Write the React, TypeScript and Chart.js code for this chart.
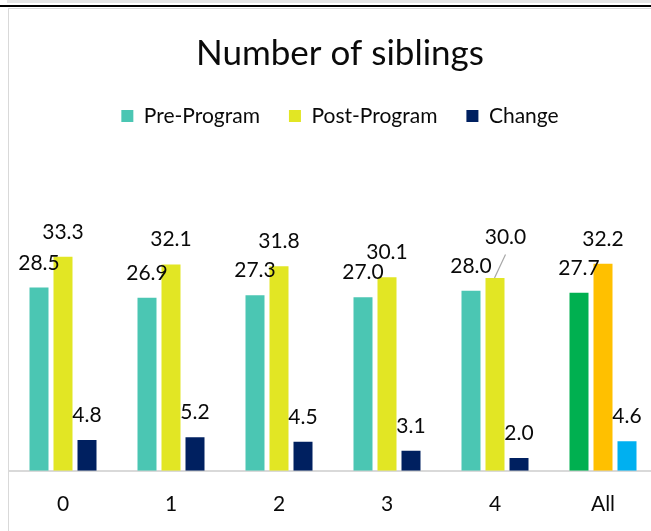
import React, { useEffect, useRef } from 'react';
import { Chart, registerables } from 'chart.js';

Chart.register(...registerables);

// ---- data ----
const categories = ['0', '1', '2', '3', '4', 'All'];
const seriesNames = ['Pre-Program', 'Post-Program', 'Change'];
const preProgram = [28.5, 26.9, 27.3, 27.0, 28.0, 27.7];
const postProgram = [33.3, 32.1, 31.8, 30.1, 30.0, 32.2];
const change = [4.8, 5.2, 4.5, 3.1, 2.0, 4.6];
const titleText = 'Number of siblings';

// ---- styles ----
const baseColors = ['#4BC6B3', '#E2E624', '#002060'];
const allColors = ['#00B050', '#FFC000', '#00B0F0'];
const FONT = 'Lato, "Open Sans", sans-serif';
const TEXT = '#0a0a0a';
// moved label (dataset index, point index, dx, dy relative to default)
const movedLabels = [{ ds: 1, idx: 4, dx: 10.5, dy: -16.4 }];

const valueLabels = {
  id: 'valueLabels',
  afterDatasetsDraw(chart: any) {
    const ctx = chart.ctx;
    ctx.save();
    ctx.font = `21px ${FONT}`;
    ctx.textAlign = 'center';
    ctx.textBaseline = 'alphabetic';
    chart.data.datasets.forEach((ds: any, di: number) => {
      const meta = chart.getDatasetMeta(di);
      meta.data.forEach((bar: any, i: number) => {
        const v = ds.data[i] as number;
        let x = bar.x;
        let y = bar.y - 18;
        const mv = movedLabels.find((m) => m.ds === di && m.idx === i);
        if (mv) {
          x += mv.dx;
          y += mv.dy;
          ctx.strokeStyle = '#A6A6A6';
          ctx.lineWidth = 1.2;
          ctx.beginPath();
          ctx.moveTo(bar.x - 0.5, bar.y);
          ctx.lineTo(x, y + 11);
          ctx.stroke();
        }
        ctx.fillStyle = TEXT;
        ctx.fillText(v.toFixed(1), x, y);
      });
    });
    ctx.restore();
  },
};

export default function App() {
  const ref = useRef<HTMLCanvasElement | null>(null);

  useEffect(() => {
    if (!ref.current) return;
    const series = [preProgram, postProgram, change];
    const chart = new Chart(ref.current, {
      type: 'bar',
      data: {
        labels: categories,
        datasets: series.map((d, k) => ({
          label: seriesNames[k],
          data: d,
          backgroundColor: (c: any) =>
            c.dataIndex === categories.length - 1 ? allColors[k] : baseColors[k],
          borderWidth: 0,
          categoryPercentage: 0.6667,
          barPercentage: 0.7917,
        })),
      },
      options: {
        responsive: false,
        animation: false,
        layout: { padding: { top: 0, left: 0, right: 0, bottom: 0 } },
        plugins: {
          title: {
            display: true,
            text: titleText,
            color: TEXT,
            font: { family: FONT, size: 35, weight: 'normal' },
            padding: { top: 23.3, bottom: 2.2 },
          },
          legend: {
            display: true,
            position: 'top',
            labels: {
              boxWidth: 12,
              boxHeight: 12,
              padding: 29,
              color: TEXT,
              font: { family: FONT, size: 21 },
              generateLabels: () =>
                seriesNames.map((n, k) => ({
                  text: n,
                  fillStyle: baseColors[k],
                  strokeStyle: 'rgba(0,0,0,0)',
                  lineWidth: 0,
                  hidden: false,
                  datasetIndex: k,
                  fontColor: TEXT,
                })),
            },
          },
          tooltip: { enabled: false },
        },
        scales: {
          x: {
            grid: { display: false, drawTicks: false },
            border: { display: true, color: '#D9D9D9', width: 2 },
            ticks: {
              color: TEXT,
              font: { family: FONT, size: 21 },
              padding: 21,
              maxRotation: 0,
              autoSkip: false,
            },
          },
          y: { display: false, min: 0, max: 52 },
          yr: {
            type: 'linear',
            position: 'right',
            display: true,
            grid: { display: false, drawTicks: false },
            border: { display: false },
            ticks: { display: false },
            afterFit: (s: any) => {
              s.width = 14;
            },
          },
        },
      } as any,
      plugins: [valueLabels],
    });
    return () => chart.destroy();
  }, []);

  return (
    <div
      style={{
        position: 'fixed',
        left: 0,
        top: 0,
        width: 651,
        height: 531,
        overflow: 'hidden',
        background: '#fff',
      }}
    >
      <div style={{ position: 'absolute', left: 7, top: 0, width: 660, height: 2.5, background: '#E4E4E4' }} />
      <div style={{ position: 'absolute', left: 0, top: 5, width: 660, height: 2, background: '#000' }} />
      <div style={{ position: 'absolute', left: 7.5, top: 7.5, width: 660, height: 1, background: '#D9D9D9' }} />
      <div style={{ position: 'absolute', left: 7.5, top: 7.5, width: 1.5, height: 530, background: '#D9D9D9' }} />
      <canvas
        ref={ref}
        width={662}
        height={529}
        style={{ position: 'absolute', left: 9, top: 9, width: 662, height: 529 }}
      />
    </div>
  );
}
